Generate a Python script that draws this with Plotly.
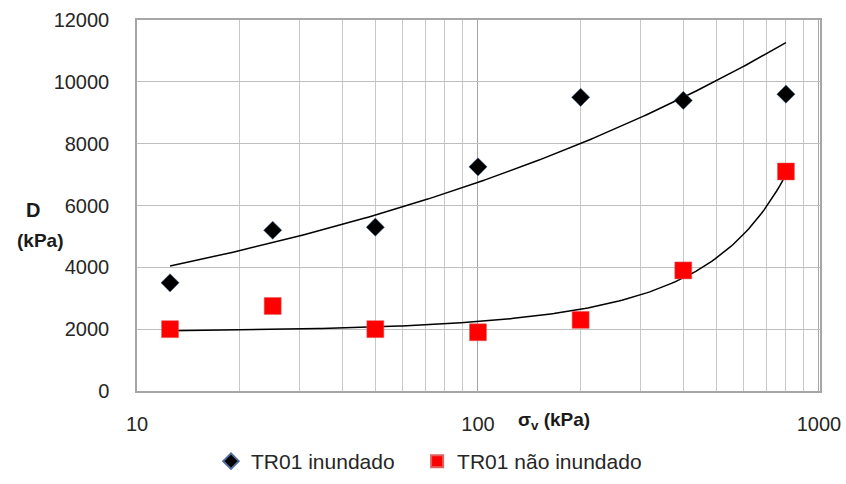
import numpy as np
import plotly.graph_objects as go

# Data
sigma_v = [12.5, 25, 50, 100, 200, 400, 800]
d_inundado = [3500, 5200, 5300, 7250, 9500, 9400, 9600]
d_nao_inundado = [2000, 2750, 2000, 1900, 2300, 3900, 7100]
series_names = ["TR01 inundado", "TR01 não inundado"]

# Trendline coefficients
trend_inundado_power = [2170, 0.2464]      # y = a * x^b
trend_nao_exp = [1911, 0.001623]           # y = a * exp(b x)

y_ticks = [0, 2000, 4000, 6000, 8000, 10000, 12000]
x_ticks = [10, 100, 1000]
x_minor = [20, 30, 40, 50, 60, 70, 80, 90, 200, 300, 400, 500, 600, 700, 800, 900]

xs = np.logspace(np.log10(min(sigma_v)), np.log10(max(sigma_v)), 200)
t_up = trend_inundado_power[0] * xs ** trend_inundado_power[1]
t_low = trend_nao_exp[0] * np.exp(trend_nao_exp[1] * xs)

FONT = "Liberation Sans, Arial, sans-serif"
TXT = "#262626"

fig = go.Figure()
fig.add_trace(go.Scatter(x=xs, y=t_up, mode="lines", line=dict(color="black", width=1.5),
                         showlegend=False, hoverinfo="skip"))
fig.add_trace(go.Scatter(x=xs, y=t_low, mode="lines", line=dict(color="black", width=1.5),
                         showlegend=False, hoverinfo="skip"))
fig.add_trace(go.Scatter(x=sigma_v, y=d_inundado, mode="markers",
                         name=series_names[0] + "\u00a0\u00a0\u00a0",
                         marker=dict(symbol="diamond", size=14, color="black",
                                     line=dict(color="#4f6d9a", width=0.5))))
fig.add_trace(go.Scatter(x=sigma_v, y=d_nao_inundado, mode="markers", name=series_names[1],
                         marker=dict(symbol="square", size=17, color="#ff0000",
                                     line=dict(color="#e06060", width=0.5))))

fig.update_layout(
    width=846, height=484,
    margin=dict(l=137, r=26, t=20, b=93, autoexpand=False),
    paper_bgcolor="white", plot_bgcolor="white",
    font=dict(family=FONT, size=20, color=TXT),
    showlegend=True,
    legend=dict(orientation="h", x=(211 - 137) / 683, xanchor="left", y=-0.19, yanchor="middle",
                font=dict(size=21, color=TXT), itemsizing="constant",
                itemwidth=30, traceorder="normal"),
    xaxis=dict(type="log", range=[1, 3.003], tickvals=x_ticks, ticktext=[str(v) for v in x_ticks],
               showgrid=True, gridcolor="#a6a6a6", gridwidth=1,
               minor=dict(tickvals=x_minor, showgrid=True, gridcolor="#c8c8c8", gridwidth=1, ticks=""),
               showline=True, linecolor="#a6a6a6", linewidth=1.5, mirror=True,
               ticks="", ticklabelstandoff=14, zeroline=False, automargin=False,
               tickfont=dict(size=20, color=TXT)),
    yaxis=dict(range=[0, 12000], tickvals=y_ticks, ticktext=[str(v) for v in y_ticks],
               showgrid=True, gridcolor="#bfbfbf", gridwidth=1,
               showline=True, linecolor="#a6a6a6", linewidth=1.5, mirror=True,
               ticks="", ticklabelstandoff=22, zeroline=False, automargin=False,
               tickfont=dict(size=20, color=TXT)),
)

fig.add_annotation(text="<b>D</b>", xref="paper", yref="paper", x=(33 - 137) / 683, y=(391 - 210) / 371,
                   xanchor="center", yanchor="middle", showarrow=False,
                   font=dict(size=20, color="#1a1a1a", family=FONT))
fig.add_annotation(text="<b>(kPa)</b>", xref="paper", yref="paper", x=(40 - 137) / 683, y=(391 - 240) / 371,
                   xanchor="center", yanchor="middle", showarrow=False,
                   font=dict(size=19, color="#1a1a1a", family=FONT))
fig.add_annotation(text="<b>σ<sub>v</sub> (kPa)</b>", xref="paper", yref="paper",
                   x=(554 - 137) / 683, y=(391 - 421) / 371,
                   xanchor="center", yanchor="middle", showarrow=False,
                   font=dict(size=19, color="#1a1a1a", family=FONT))

fig.write_html("out.html", config={"displayModeBar": False},
               post_script="document.body.style.margin='0';document.body.style.padding='0';")
